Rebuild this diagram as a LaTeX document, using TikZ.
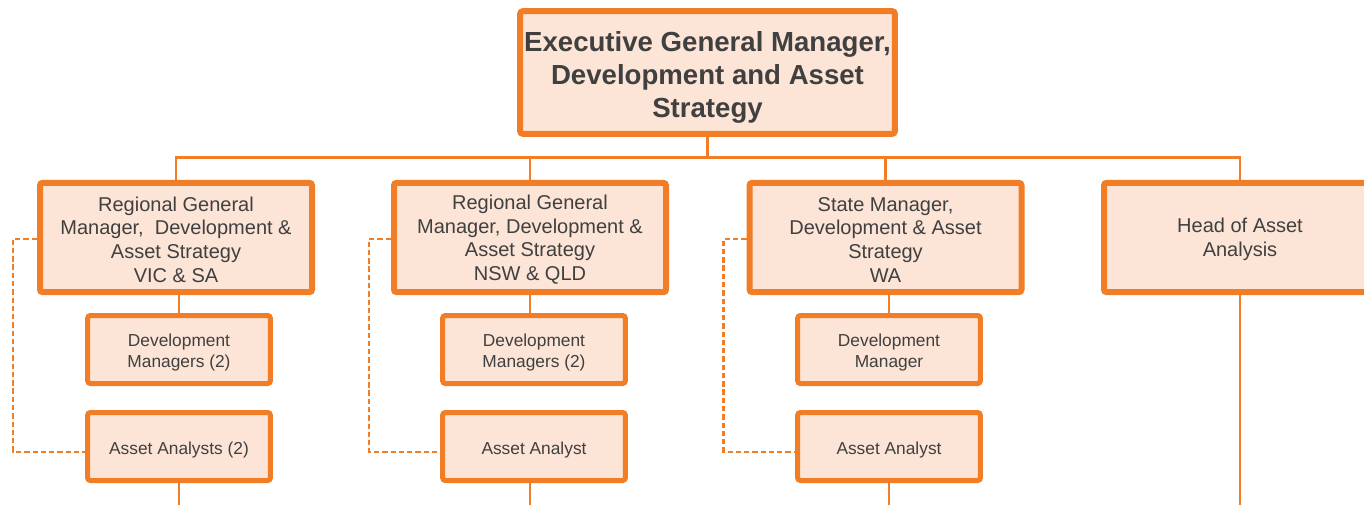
\documentclass[tikz,border=0pt]{standalone}
\usepackage{fontspec}
\setmainfont{Liberation Sans}

\definecolor{orgline}{RGB}{241,125,38}
\definecolor{orgfill}{RGB}{252,228,214}
\definecolor{orgtext}{RGB}{64,64,64}

% taller first line, so the text sits a bit lower in its box
\newcommand\lift[1]{\rule{0pt}{#1}}

\begin{document}
\begin{tikzpicture}[x=0.75pt,y=-0.75pt,
  box/.style={draw=orgline,fill=orgfill,text=orgtext,rounded corners=2pt,
    inner sep=0pt,align=center},
  topbox/.style={box,line width=4.5pt,minimum width=281pt,minimum height=92pt,
    font=\fontsize{20.7pt}{24.6pt}\selectfont\bfseries},
  midbox/.style={box,line width=4.5pt,minimum width=204pt,minimum height=82pt,
    font=\fontsize{15pt}{17.8pt}\selectfont},
  lowbox/.style={box,line width=3.75pt,minimum width=137pt,minimum height=51pt,
    font=\fontsize{13pt}{15.8pt}\selectfont},
  link/.style={draw=orgline,line width=2.2pt},
  dotlink/.style={draw=orgline,line width=1.6pt,dash pattern=on 4pt off 2.2pt}]
\useasboundingbox (0,0) rectangle (1364,504);
\clip (0,0) rectangle (1364,504);
\coordinate (bot) at (0,510);

\node[topbox] (egm) at (707.5,72.5) {\lift{22.6pt}Executive General Manager,\\Development and Asset\\Strategy};

\node[midbox] (rgm1) at (176,237.5) {\lift{14pt}Regional General\\Manager,~ Development \&\\Asset Strategy\\VIC \& SA};
\node[midbox] (rgm2) at (530,237.5) {\lift{14pt}Regional General\\Manager, Development \&\\Asset Strategy\\NSW \& QLD};
\node[midbox] (sm) at (885.5,237.5) {\lift{14pt}State Manager,\\Development \& Asset\\Strategy\\WA};
\node[midbox] (head) at (1240,237.5) {\lift{14pt}Head of Asset\\Analysis};

\node[lowbox] (dm1) at (179,349.5) {\lift{14pt}Development\\Managers (2)};
\node[lowbox] (aa1) at (179,446.5) {\lift{14pt}Asset Analysts (2)};
\node[lowbox] (dm2) at (534,349.5) {\lift{14pt}Development\\Managers (2)};
\node[lowbox] (aa2) at (534,446.5) {\lift{14pt}Asset Analyst};
\node[lowbox] (dm3) at (889,349.5) {\lift{14pt}Development\\Manager};
\node[lowbox] (aa3) at (889,446.5) {\lift{14pt}Asset Analyst};

% bus under the top box
\draw[link] (egm.south) -- ++(0,21) coordinate (bus);
\draw[link] (rgm1.north) |- (bus);
\draw[link] (rgm2.north) |- (bus);
\draw[link] (sm.north) |- (bus);
\draw[link] (head.north) |- (bus);

\draw[link] (dm1.north |- rgm1.south) -- (dm1.north);
\draw[link] (rgm2.south) -- (rgm2.south |- dm2.north);
\draw[link] (dm3.north |- sm.south) -- (dm3.north);

\draw[link] (aa1.south) -- (aa1.south |- bot);
\draw[link] (rgm2.south |- aa2.south) -- (rgm2.south |- bot);
\draw[link] (aa3.south) -- (aa3.south |- bot);
\draw[link] (head.south) -- (head.south |- bot);

\draw[dotlink] ([yshift=-1pt]rgm1.west) -- ++(-24,0) |- ([yshift=-3.8pt]aa1.west);
\draw[dotlink] ([yshift=-1pt]rgm2.west) -- ++(-22,0) |- ([yshift=-3.8pt]aa2.west);
\draw[dotlink] ([yshift=-1pt]sm.west) -- ++(-23,0) |- ([yshift=-3.8pt]aa3.west);
\end{tikzpicture}
\end{document}
